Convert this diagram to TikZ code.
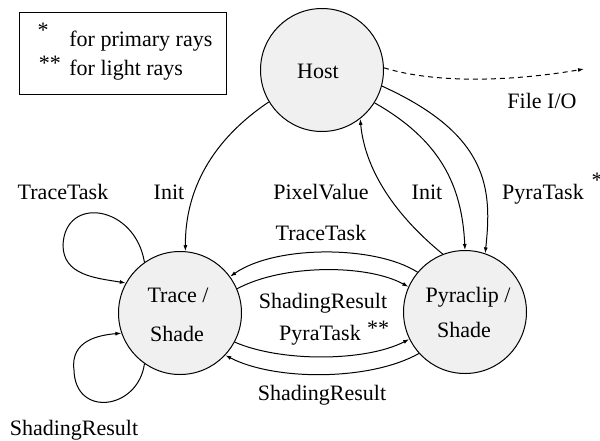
\documentclass[tikz,border=0pt]{standalone}
\usepackage{fontspec}
\setmainfont{Liberation Serif}
\usetikzlibrary{arrows.meta}
\begin{document}
\begin{tikzpicture}[x=0.5pt,y=-0.5pt,
  every node/.style={font=\fontsize{11}{13}\selectfont},
  proc/.style={circle,draw,line width=0.5pt,fill=black!6,minimum size=61.5pt,inner sep=0pt},
  lbl/.style={anchor=base,inner sep=0pt},
  conn/.style={line width=0.5pt,-{Latex[length=3pt,width=2pt]}},
  fileio/.style={conn,dash pattern=on 2.5pt off 2pt}]
\useasboundingbox (0,0) rectangle (600,440);

% legend
\draw[line width=0.5pt] (19,12) rectangle (226,94);
\node[lbl] (s1) at (43,37) {*};
\node[lbl] (s2) at (50,70) {**};
\node[lbl,anchor=base west] (l1) at (69,46) {for primary rays};
\node[lbl,anchor=base west] (l2) at (69,75) {for light rays};

% processes
\node[proc] (host) at (322,70) {};
\node[lbl] at (318,78) {Host};
\node[proc] (trace) at (180,313) {};
\node[lbl] at (178,302) {Trace /};
\node[lbl] at (177,341) {Shade};
\node[proc] (pyra) at (465,312) {};
\node[lbl] at (468,302) {Pyraclip /};
\node[lbl] at (464,337) {Shade};

% file I/O
\coordinate (io) at (584,69);
\draw[fileio] (host.2) .. controls (440,85) and (520,80) .. (io);
\node[lbl] (tio) at (542,108) {File I/O};

% host connections
\draw[conn] (host.211) .. controls (212,140) and (185,190) .. (trace.85);
\draw[conn] (pyra.111) .. controls (395,215) and (365,170) .. (host.-52);
\draw[conn] (host.-32) .. controls (440,140) and (462,185) .. (pyra.90);
\draw[conn] (host.-15) .. controls (490,135) and (492,190) .. (pyra.71);
\node[lbl] (tinit1) at (169,199) {Init};
\node[lbl] (tpix) at (321,199) {PixelValue};
\node[lbl] (tinit2) at (427,199) {Init};
\node[lbl] (tpyra1) at (543,199) {PyraTask};
\node[lbl] (st1) at (597,187) {*};

% self loops on Trace / Shade
\draw[conn] (trace.125) .. controls (135,205) and (65,195) .. (63,245)
  .. controls (63,275) and (95,278) .. (trace.151);
\draw[conn] (trace.235) .. controls (138,410) and (75,418) .. (74,370)
  .. controls (70,340) and (100,335) .. (trace.199);
\node[lbl] (ttrace1) at (63,199) {TraceTask};
\node[lbl] (tshade1) at (74,435) {ShadingResult};

% links between Trace / Shade and Pyraclip / Shade
\draw[conn] (pyra.140) .. controls (375,245) and (275,245) .. (trace.36);
\draw[conn] (trace.23) .. controls (283,264) and (367,264) .. (pyra.156);
\draw[conn] (trace.-28) .. controls (280,362) and (365,362) .. (pyra.206);
\draw[conn] (pyra.222) .. controls (370,381) and (275,381) .. (trace.-43);
\node[lbl] (ttrace2) at (321,240) {TraceTask};
\node[lbl] (tshade2) at (323,308) {ShadingResult};
\node[lbl] (tpyra2) at (320,340) {PyraTask};
\node[lbl] (st2) at (378,335) {**};
\node[lbl] (tshade3) at (322,400) {ShadingResult};
\end{tikzpicture}
\end{document}
